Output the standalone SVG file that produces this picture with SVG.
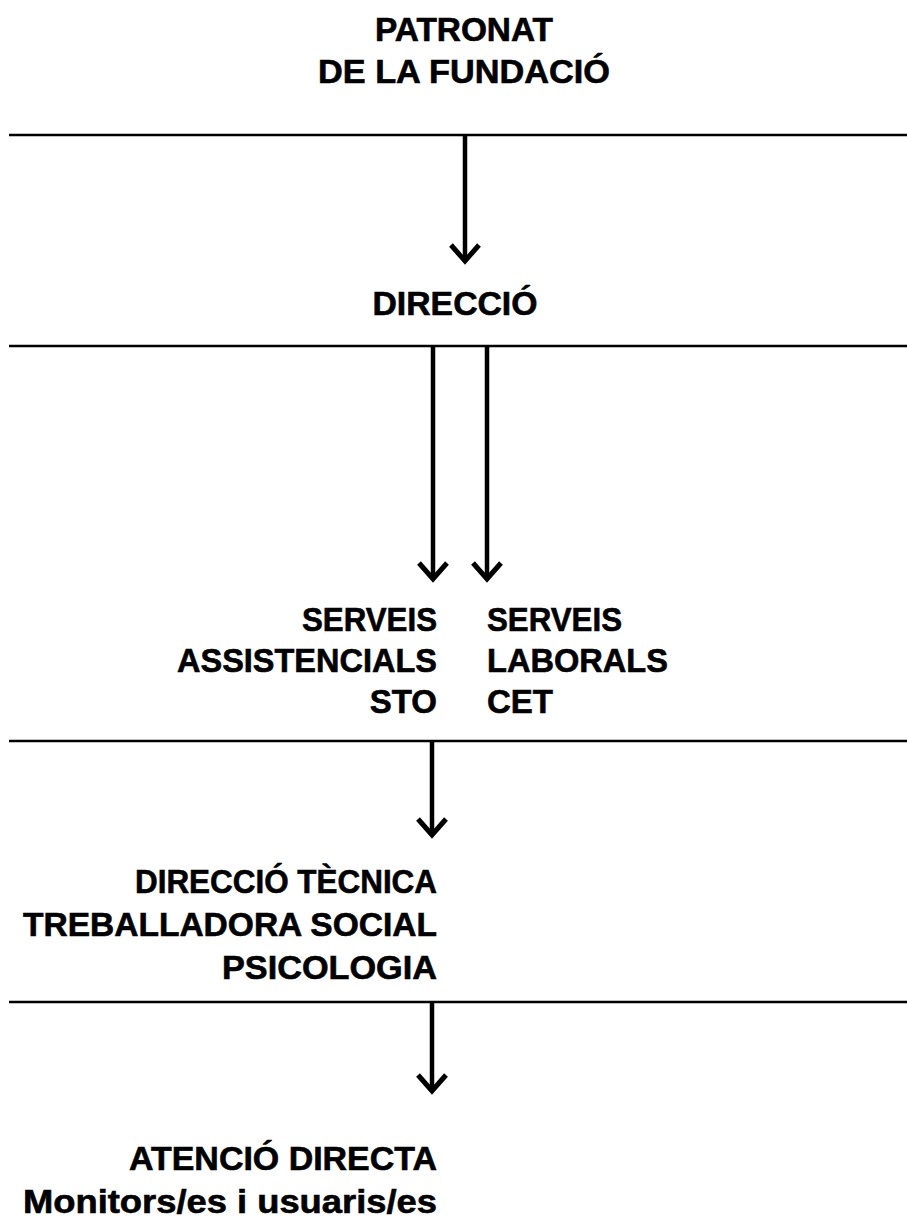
<svg xmlns="http://www.w3.org/2000/svg" width="907" height="1229" viewBox="0 0 907 1229">
<style>
.t{font-family:"Liberation Sans",Arial,sans-serif;font-weight:bold;font-size:33px;fill:#000;stroke:#000;stroke-width:0.6}
.e{text-anchor:end}
.m{text-anchor:middle}
.s{text-anchor:start}
.hl{stroke:#000;stroke-width:2.5;fill:none}
.ar{stroke:#000;stroke-width:4.5;fill:none;marker-end:url(#ah)}
</style>
<defs>
<marker id="ah" markerUnits="userSpaceOnUse" markerWidth="40" markerHeight="40" viewBox="-20 -20 40 40" refX="0" refY="0" orient="auto" overflow="visible">
<path d="M-16,-14 L0,0 L-16,14" fill="none" stroke="#000" stroke-width="5"/>
</marker>
</defs>
<rect width="907" height="1229" fill="#fff"/>
<g id="dividers">
<line class="hl" x1="9" y1="135" x2="907" y2="135"/>
<line class="hl" x1="9" y1="346" x2="907" y2="346"/>
<line class="hl" x1="9" y1="741" x2="907" y2="741"/>
<line class="hl" x1="9" y1="1002" x2="907" y2="1002"/>
</g>
<g id="connectors">
<line class="ar" x1="465" y1="135" x2="465" y2="261"/>
<line class="ar" x1="433" y1="346" x2="433" y2="579"/>
<line class="ar" x1="487" y1="346" x2="487" y2="579"/>
<line class="ar" x1="432" y1="741" x2="432" y2="835"/>
<line class="ar" x1="432" y1="1002" x2="432" y2="1091"/>
</g>
<g id="patronat">
<text class="t m" x="464" y="41" textLength="178" lengthAdjust="spacingAndGlyphs">PATRONAT</text>
<text class="t m" x="464" y="83" textLength="292" lengthAdjust="spacingAndGlyphs">DE LA FUNDACIÓ</text>
</g>
<g id="direccio">
<text class="t m" x="455" y="315" textLength="165" lengthAdjust="spacingAndGlyphs">DIRECCIÓ</text>
</g>
<g id="serveis-assistencials">
<text class="t e" x="437" y="631" textLength="135" lengthAdjust="spacingAndGlyphs">SERVEIS</text>
<text class="t e" x="437" y="672" textLength="260" lengthAdjust="spacingAndGlyphs">ASSISTENCIALS</text>
<text class="t e" x="437" y="713">STO</text>
</g>
<g id="serveis-laborals">
<text class="t s" x="487" y="631" textLength="135" lengthAdjust="spacingAndGlyphs">SERVEIS</text>
<text class="t s" x="487" y="672" textLength="181" lengthAdjust="spacingAndGlyphs">LABORALS</text>
<text class="t s" x="487" y="713">CET</text>
</g>
<g id="direccio-tecnica">
<text class="t e" x="437" y="893" textLength="302" lengthAdjust="spacingAndGlyphs">DIRECCIÓ TÈCNICA</text>
<text class="t e" x="437" y="936" textLength="414" lengthAdjust="spacingAndGlyphs">TREBALLADORA SOCIAL</text>
<text class="t e" x="437" y="979" textLength="215" lengthAdjust="spacingAndGlyphs">PSICOLOGIA</text>
</g>
<g id="atencio-directa">
<text class="t e" x="437" y="1170" textLength="308" lengthAdjust="spacingAndGlyphs">ATENCIÓ DIRECTA</text>
<text class="t e" x="437" y="1213" textLength="414" lengthAdjust="spacingAndGlyphs">Monitors/es i usuaris/es</text>
</g>
</svg>
